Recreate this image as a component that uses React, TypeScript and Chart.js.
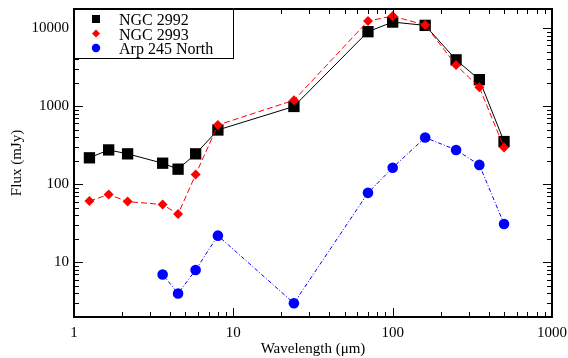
import React, { useEffect, useRef } from 'react';
import { Chart, registerables } from 'chart.js';
Chart.register(...registerables);

const wavelengthsNGC = [1.25, 1.65, 2.17, 3.6, 4.5, 5.8, 8.0, 24, 70, 100, 160, 250, 350, 500];
const fluxNGC2992 = [218, 275, 245, 186, 156, 245, 495, 990, 8970, 11900, 10800, 3910, 2180, 352];
const fluxNGC2993 = [61, 74, 60, 55, 41.5, 133, 573, 1190, 12280, 14200, 10900, 3350, 1740, 295];
const wavelengthsArp = [3.6, 4.5, 5.8, 8.0, 24, 70, 100, 160, 250, 350, 500];
const fluxArp245N = [7, 4, 8, 22, 3, 77.6, 163, 396, 275, 177, 31];
const seriesNames = ['NGC 2992', 'NGC 2993', 'Arp 245 North'];
const seriesColors = ['#000000', '#ff0000', '#0000ff'];
const xTicks = [1, 10, 100, 1000];
const yTicks = [10, 100, 1000, 10000];
const xRange = [1, 1000];
const yRange = [2, 17500];
const xTitle = 'Wavelength (\u03bcm)';
const yTitle = 'Flux (mJy)';

const FONT = "'Liberation Serif', 'Times New Roman', serif";

const framePlugin = {
  id: 'frameTicks',
  afterDraw(chart: any) {
    const ctx = chart.ctx as CanvasRenderingContext2D;
    const { left, right, top, bottom } = chart.chartArea;
    const xs = chart.scales.x;
    const ys = chart.scales.y;
    ctx.save();
    ctx.strokeStyle = '#000';
    ctx.lineWidth = 1;
    ctx.beginPath();
    for (let d = 1; d <= 10000; d *= 10) {
      for (let m = 1; m <= 9; m++) {
        const v = m * d;
        const len = m === 1 ? 9 : 5;
        if (v >= xRange[0] && v <= xRange[1]) {
          const px = Math.round(xs.getPixelForValue(v)) + 0.5;
          ctx.moveTo(px, bottom);
          ctx.lineTo(px, bottom - len);
          ctx.moveTo(px, top);
          ctx.lineTo(px, top + len);
        }
        if (v >= yRange[0] && v <= yRange[1]) {
          const py = Math.round(ys.getPixelForValue(v)) + 0.5;
          ctx.moveTo(left, py);
          ctx.lineTo(left + len, py);
          ctx.moveTo(right, py);
          ctx.lineTo(right - len, py);
        }
      }
    }
    ctx.stroke();
    ctx.lineWidth = 2;
    ctx.strokeRect(left, top, right - left, bottom - top);

    // legend
    const lx = left, ly = top;
    ctx.fillStyle = '#fff';
    ctx.fillRect(lx + 1, ly + 1, 159, 48);
    ctx.lineWidth = 1;
    ctx.strokeRect(lx + 0.5, ly + 0.5, 159, 49);
    ctx.lineWidth = 2;
    ctx.beginPath();
    ctx.moveTo(left, top);
    ctx.lineTo(lx + 160, top);
    ctx.stroke();
    const rowsY = [ly + 10, ly + 24.5, ly + 39];
    const mx = lx + 22;
    ctx.font = `16px ${FONT}`;
    ctx.textBaseline = 'alphabetic';
    ctx.textAlign = 'left';
    seriesNames.forEach((name, i) => {
      const cy = rowsY[i];
      ctx.fillStyle = seriesColors[i];
      ctx.beginPath();
      if (i === 0) {
        ctx.rect(mx - 4, cy - 4, 8, 8);
      } else if (i === 1) {
        ctx.moveTo(mx, cy - 4);
        ctx.lineTo(mx + 4, cy);
        ctx.lineTo(mx, cy + 4);
        ctx.lineTo(mx - 4, cy);
        ctx.closePath();
      } else {
        ctx.arc(mx, cy, 4.2, 0, Math.PI * 2);
      }
      ctx.fill();
      ctx.fillStyle = '#000';
      ctx.fillText(name, lx + 45, cy + 6);
    });
    ctx.restore();
  },
};

export default function App() {
  const ref = useRef<HTMLCanvasElement | null>(null);
  useEffect(() => {
    if (!ref.current) return;
    const mk = (xsArr: number[], ysArr: number[]) => xsArr.map((x, i) => ({ x, y: ysArr[i] }));
    const chart = new Chart(ref.current, {
      type: 'line',
      data: {
        datasets: [
          {
            label: seriesNames[0],
            data: mk(wavelengthsNGC, fluxNGC2992),
            borderColor: seriesColors[0],
            backgroundColor: seriesColors[0],
            borderWidth: 1,
            pointStyle: 'rect',
            pointRadius: 8,
            pointBorderWidth: 0,
            order: 1,
          },
          {
            label: seriesNames[1],
            data: mk(wavelengthsNGC, fluxNGC2993),
            borderColor: seriesColors[1],
            backgroundColor: seriesColors[1],
            borderWidth: 1,
            borderDash: [6, 3],
            pointStyle: 'rectRot',
            pointRadius: 5,
            pointBorderWidth: 0,
            order: 0,
          },
          {
            label: seriesNames[2],
            data: mk(wavelengthsArp, fluxArp245N),
            borderColor: seriesColors[2],
            backgroundColor: seriesColors[2],
            borderWidth: 1,
            borderDash: [4, 2, 1, 2],
            pointStyle: 'circle',
            pointRadius: 5.3,
            pointBorderWidth: 0,
            order: 2,
          },
        ],
      } as any,
      options: {
        animation: false,
        responsive: false,
        maintainAspectRatio: false,
        devicePixelRatio: 1,
        layout: { padding: { left: 8, top: 9, right: 16, bottom: 0 } },
        plugins: { legend: { display: false }, tooltip: { enabled: false } },
        scales: {
          x: {
            type: 'logarithmic',
            min: xRange[0],
            max: xRange[1],
            grid: { display: false, drawTicks: false },
            border: { display: false },
            afterBuildTicks: (s: any) => {
              s.ticks = xTicks.map((v) => ({ value: v }));
            },
            afterFit: (s: any) => {
              s.height = 41;
              s.paddingLeft = 0;
              s.paddingRight = 0;
            },
            ticks: {
              autoSkip: false,
              maxRotation: 0,
              padding: 7,
              color: '#000',
              font: { family: FONT, size: 15 },
              callback: (v: any) => String(v),
            },
            title: {
              display: true,
              text: xTitle,
              color: '#000',
              font: { family: FONT, size: 15 },
              padding: { top: 0, bottom: 0 },
            },
          },
          y: {
            type: 'logarithmic',
            min: yRange[0],
            max: yRange[1],
            grid: { display: false, drawTicks: false },
            border: { display: false },
            afterBuildTicks: (s: any) => {
              s.ticks = yTicks.map((v) => ({ value: v }));
            },
            afterFit: (s: any) => {
              s.width = 66;
              s.paddingTop = 0;
              s.paddingBottom = 0;
            },
            ticks: {
              autoSkip: false,
              padding: 5,
              color: '#000',
              font: { family: FONT, size: 15 },
              callback: (v: any) => String(v),
            },
            title: {
              display: true,
              text: yTitle,
              color: '#000',
              font: { family: FONT, size: 15 },
              padding: { top: 0, bottom: 0 },
            },
          },
        },
      } as any,
      plugins: [framePlugin],
    });
    return () => chart.destroy();
  }, []);
  return (
    <div style={{ position: 'absolute', left: 0, top: 0, width: 568, height: 358, background: '#fff' }}>
      <canvas ref={ref} width={568} height={358} style={{ width: 568, height: 358, display: 'block' }} />
    </div>
  );
}
